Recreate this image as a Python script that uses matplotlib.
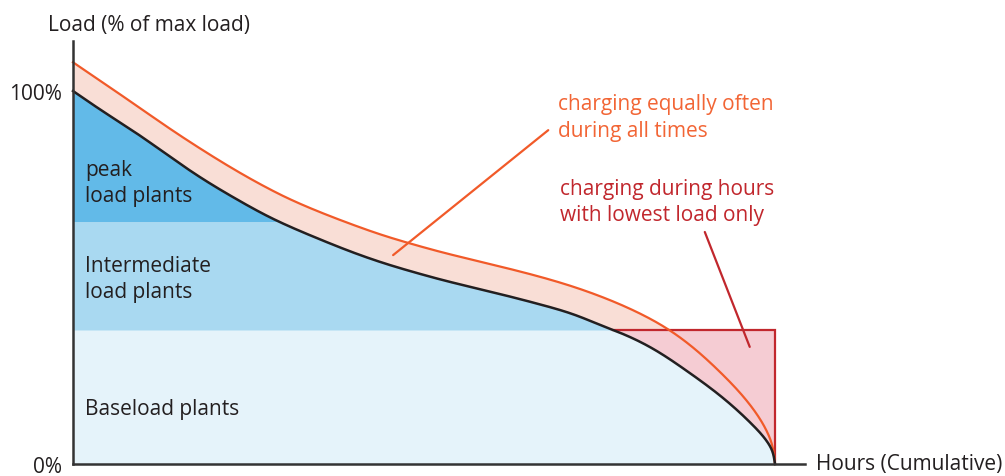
import numpy as np
import matplotlib.pyplot as plt

# load duration curve (hours in % of total, load in % of max)
hours_base = [0, 4.3, 9.1, 13.8, 18.6, 23.3, 28.1, 30.0, 34.7, 39.5, 44.2, 49.0,
              52.3, 57.0, 61.8, 66.5, 71.3, 76.0, 77.9, 82.7, 87.4, 92.2, 96.9, 98.8, 99.6, 100]
load_base = [100, 94.5, 88.6, 82.4, 76.3, 71.0, 66.1, 64.4, 60.6, 57.0, 53.9, 51.2,
             49.5, 47.3, 45.1, 42.8, 40.1, 36.6, 35.2, 30.8, 25.0, 18.3, 10.3, 6.2, 3.5, 0]

hours_charge = [0, 4.3, 9.1, 13.8, 18.6, 23.3, 28.1, 30.0, 34.7, 39.5, 44.2, 49.0,
                52.3, 57.0, 61.8, 66.5, 71.3, 76.0, 80.8, 84.1, 87.4, 92.2, 96.9, 98.8, 99.6, 100]
load_charge = [107.7, 102.2, 96.0, 89.9, 84.0, 78.6, 73.6, 71.8, 67.9, 64.4, 61.3, 58.6,
               56.9, 54.7, 52.5, 50.2, 47.5, 44.3, 40.3, 36.9, 32.6, 24.6, 14.7, 8.9, 5.0, 0]

peak_level = 65.0
intermediate_level = 35.9

c_peak = '#62bae8'
c_inter = '#a9d9f1'
c_base = '#e5f3fa'
c_band = '#f9ded6'
c_orange = '#f15a29'
c_red = '#c1272d'
c_rect = '#f5ccd3'

px = 7.02   # pixels per hour-percent
py = 3.73   # pixels per load-percent


def natural_spline(t, v, ts):
    n = len(t)
    h = np.diff(t)
    A = np.zeros((n, n))
    r = np.zeros(n)
    A[0, 0] = A[-1, -1] = 1
    for i in range(1, n - 1):
        A[i, i - 1] = h[i - 1]
        A[i, i] = 2 * (h[i - 1] + h[i])
        A[i, i + 1] = h[i]
        r[i] = 3 * ((v[i + 1] - v[i]) / h[i] - (v[i] - v[i - 1]) / h[i - 1])
    c = np.linalg.solve(A, r)
    b = (v[1:] - v[:-1]) / h - h * (2 * c[:-1] + c[1:]) / 3
    d = (c[1:] - c[:-1]) / (3 * h)
    k = np.clip(np.searchsorted(t, ts) - 1, 0, n - 2)
    dt = ts - t[k]
    return v[k] + b[k] * dt + c[k] * dt**2 + d[k] * dt**3


def smooth(x, y, n=800):
    # parametric spline through the read points (drawing only)
    x = np.asarray(x, float) * px
    y = np.asarray(y, float) * py
    t = np.concatenate([[0], np.cumsum(np.hypot(np.diff(x), np.diff(y)))])
    ts = np.linspace(0, t[-1], n)
    return natural_spline(t, x, ts) / px, natural_spline(t, y, ts) / py


xb, yb = smooth(hours_base, load_base)
xc, yc = smooth(hours_charge, load_charge)
xs = np.linspace(0, 100, 2000)
yb_g = np.interp(xs, xb, yb)
yc_g = np.interp(xs, xc, yc)

plt.rcParams['font.family'] = ['Open Sans', 'DejaVu Sans']
fig = plt.figure(figsize=(10.05, 4.77), dpi=100)
ax = fig.add_axes([0, 0, 1, 1])
ax.set_xlim(-73 / px, (1005 - 73) / px)
ax.set_ylim(-(477 - 465) / py, 465 / py)

# plant regions
ax.fill_between(xs, 0, np.minimum(yb_g, intermediate_level), color=c_base, lw=0)
ax.fill_between(xs, intermediate_level, np.clip(yb_g, intermediate_level, peak_level),
                color=c_inter, lw=0)
ax.fill_between(xs, peak_level, np.maximum(yb_g, peak_level), color=c_peak, lw=0)

# charging band
ax.fill_between(xs, yb_g, yc_g, color=c_band, lw=0)

# charging during lowest load only
x_cross = np.interp(intermediate_level, yb_g[::-1], xs[::-1])
mask = xs >= x_cross
ax.fill_between(xs[mask], yb_g[mask], intermediate_level, color=c_rect, lw=0)
ax.plot([x_cross, 100, 100], [intermediate_level, intermediate_level, 0],
        color=c_red, lw=1.6, solid_joinstyle='miter')

ax.plot(xc, yc, color=c_orange, lw=1.6)
ax.plot(xb, yb, color='#231f20', lw=1.8)

# axes
for s in ['top', 'right']:
    ax.spines[s].set_visible(False)
ax.spines['left'].set_position(('data', 0))
ax.spines['bottom'].set_position(('data', 0))
ax.spines['left'].set_bounds(0, (465 - 42) / py)
ax.spines['bottom'].set_bounds(0, (805 - 73) / px)
for s in ['left', 'bottom']:
    ax.spines[s].set_color('#333333')
    ax.spines[s].set_linewidth(1.8)
    ax.spines[s].set_zorder(5)
ax.set_xticks([])
ax.set_yticks([0, 100])
ax.set_yticklabels(['0%', '100%'], fontsize=15, color='#231f20')
ax.tick_params(axis='y', length=0, pad=8)
ax.patch.set_alpha(0)

txt = dict(fontsize=15, color='#231f20', va='center')
ax.text(-3.6, (465 - 25) / py, 'Load (% of max load)', ha='left', **txt)
ax.text(105.9, 0, 'Hours (Cumulative)', ha='left', **txt)
ax.text(1.7, 75.5, 'peak\nload plants', ha='left', linespacing=1.36, **txt)
ax.text(1.7, 49.7, 'Intermediate\nload plants', ha='left', linespacing=1.36, **txt)
ax.text(1.7, 15.0, 'Baseload plants', ha='left', **txt)

ax.text(69.1, 93.0, 'charging equally often\nduring all times', ha='left', va='center',
        fontsize=15, color='#f26535', linespacing=1.36)
ax.text(69.4, 70.4, 'charging during hours\nwith lowest load only', ha='left', va='center',
        fontsize=15, color=c_red, linespacing=1.36)

ax.annotate('', xy=(45.6, 56.0), xytext=(67.7, 89.5),
            arrowprops=dict(arrowstyle='-', color=c_orange, lw=1.6, shrinkA=0, shrinkB=0))
ax.annotate('', xy=(96.4, 31.4), xytext=(90.0, 62.2),
            arrowprops=dict(arrowstyle='-', color=c_red, lw=1.6, shrinkA=0, shrinkB=0))

fig.savefig('out.png', dpi=100)
